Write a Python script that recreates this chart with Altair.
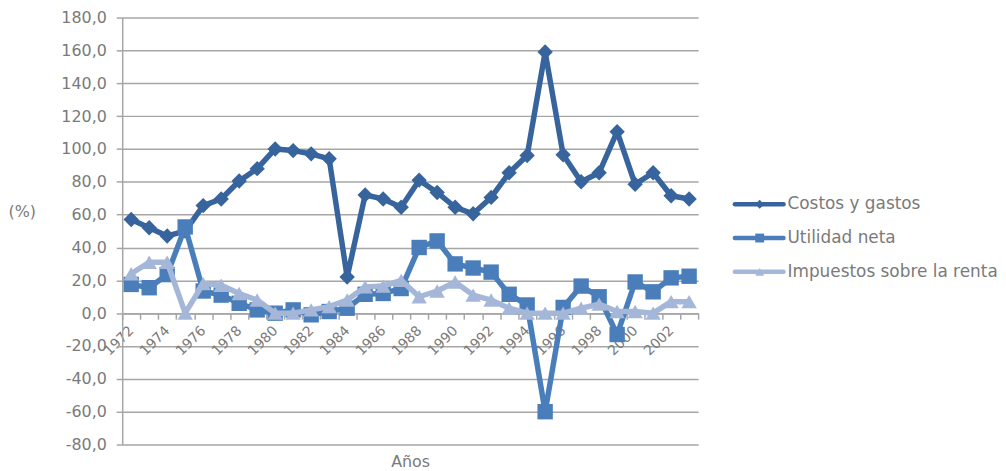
import altair as alt
import pandas as pd

years = list(range(1972, 2004))
series_names = ["Costos y gastos", "Utilidad neta", "Impuestos sobre la renta"]
costos = [57, 52, 47, 50, 65.5, 69.5, 80.5, 88, 100, 99, 97, 94, 22, 72, 69.5, 64.5,
          81, 73.5, 64.5, 60.5, 70.5, 85.5, 96, 159, 96.5, 80, 85.5, 110.5, 78.5, 85.5, 71.5, 69.5]
utilidad = [17.5, 15.5, 23.5, 52.5, 13.5, 11, 6, 2, 0, 2, -1, 1, 3, 11.5, 12, 15,
            40, 44, 30, 27.5, 25, 11.5, 5, -60, 3.5, 16.5, 10, -13, 19, 13, 21.5, 22.5]
impuestos = [24, 31, 31, 0, 18, 17, 12, 8, 0, 0, 2, 4, 8, 16, 16.5, 20,
             10, 13.5, 19, 11, 8, 3, 0, 0, 0, 3, 5.5, 1, 1, 0, 7, 7]
colors = ["#37649c", "#4a7ebb", "#a5b7d8"]
shapes = ["diamond", "square", "triangle-up"]
y_ticks = list(range(-80, 181, 20))

FONT = "DejaVu Sans"
GRAY = "#7a7a7a"
LINE_GRAY = "#a6a6a6"

rows = []
for name, vals in zip(series_names, [costos, utilidad, impuestos]):
    for yr, v in zip(years, vals):
        rows.append({"year": yr, "value": v, "serie": name})
df = pd.DataFrame(rows)

W, H = 580, 430
zero_off = -H * 80 / 260

color_scale = alt.Scale(domain=series_names, range=colors)

x_enc = alt.X(
    "year:O",
    scale=alt.Scale(type="band", paddingInner=0, paddingOuter=0),
    axis=alt.Axis(
        title="Años", titleFont=FONT, titleFontSize=16, titleFontWeight="normal",
        titleColor=GRAY, titleY=149, titleBaseline="middle",
        offset=zero_off, tickBand="extent", tickSize=6, tickColor=LINE_GRAY, tickWidth=1.5,
        domainColor=LINE_GRAY, domainWidth=1.5,
        labelAngle=-45, labelAlign="right", labelBaseline="middle",
        labelFont=FONT, labelFontSize=14, labelColor=GRAY, labelPadding=9,
        labelOverlap=False, labelBound=False,
        labelExpr="datum.value % 2 == 0 ? datum.label : ''", grid=False,
    ),
)
y_enc = alt.Y(
    "value:Q",
    scale=alt.Scale(domain=[-80, 180], nice=False, zero=False),
    axis=alt.Axis(
        values=y_ticks,
        labelExpr="replace(replace(format(datum.value, '.1f'), '.', ','), '\u2212', '-')",
        labelFont=FONT, labelFontSize=16, labelColor=GRAY, labelPadding=10,
        tickSize=6, tickColor=LINE_GRAY, tickWidth=1.5,
        domainColor=LINE_GRAY, domainWidth=1.5,
        grid=True, gridColor=LINE_GRAY, gridWidth=1.5,
        title="(%)", titleAngle=0, titleAlign="left", titleBaseline="middle",
        titleX=-115, titleY=195, titleFont=FONT, titleFontSize=16,
        titleFontWeight="normal", titleColor=GRAY,
    ),
)

layers = []
for name, shp in zip(series_names, shapes):
    base = alt.Chart(df).transform_filter(alt.datum.serie == name)
    line = base.mark_line(strokeWidth=5.5, strokeJoin="round").encode(
        x=x_enc, y=y_enc,
        color=alt.Color("serie:N", scale=color_scale, legend=None),
    )
    pts = base.mark_point(shape=shp, filled=True, size=240, opacity=1).encode(
        x=x_enc, y=y_enc,
        color=alt.Color("serie:N", scale=color_scale, legend=None),
    )
    layers += [line, pts]

main = alt.layer(*layers).properties(width=W, height=H)

# legend: entries in series order, placed through a linear scale
leg_df = pd.DataFrame({"serie": series_names, "orden": list(range(len(series_names)))})
LEG_H = 300
y_leg = alt.Y("orden:Q", scale=alt.Scale(domain=[-5.53, -5.53 + LEG_H / 34], reverse=True,
                                         nice=False, zero=False), axis=None)
leg_rule = alt.Chart(leg_df).mark_rule(strokeWidth=4.5, strokeCap="round").encode(
    x=alt.value(2), x2=alt.value(51), y=y_leg,
    color=alt.Color("serie:N", scale=color_scale, legend=None),
)
leg_pts = alt.Chart(leg_df).mark_point(filled=True, size=80, opacity=1).encode(
    x=alt.value(27), y=y_leg,
    color=alt.Color("serie:N", scale=color_scale, legend=None),
    shape=alt.Shape("serie:N", scale=alt.Scale(domain=series_names, range=shapes), legend=None),
)
leg_txt = alt.Chart(leg_df).mark_text(align="left", baseline="middle", font=FONT,
                                      fontSize=17, color=GRAY).encode(
    x=alt.value(55), y=y_leg, text="serie:N",
)
legend = alt.layer(leg_rule, leg_pts, leg_txt).properties(width=250, height=LEG_H)

chart = alt.hconcat(main, legend, spacing=33).properties(padding=0).configure_view(
    stroke=None
).resolve_scale(color="shared")

chart.save("out.html", embed_options={"renderer": "svg", "actions": False})
